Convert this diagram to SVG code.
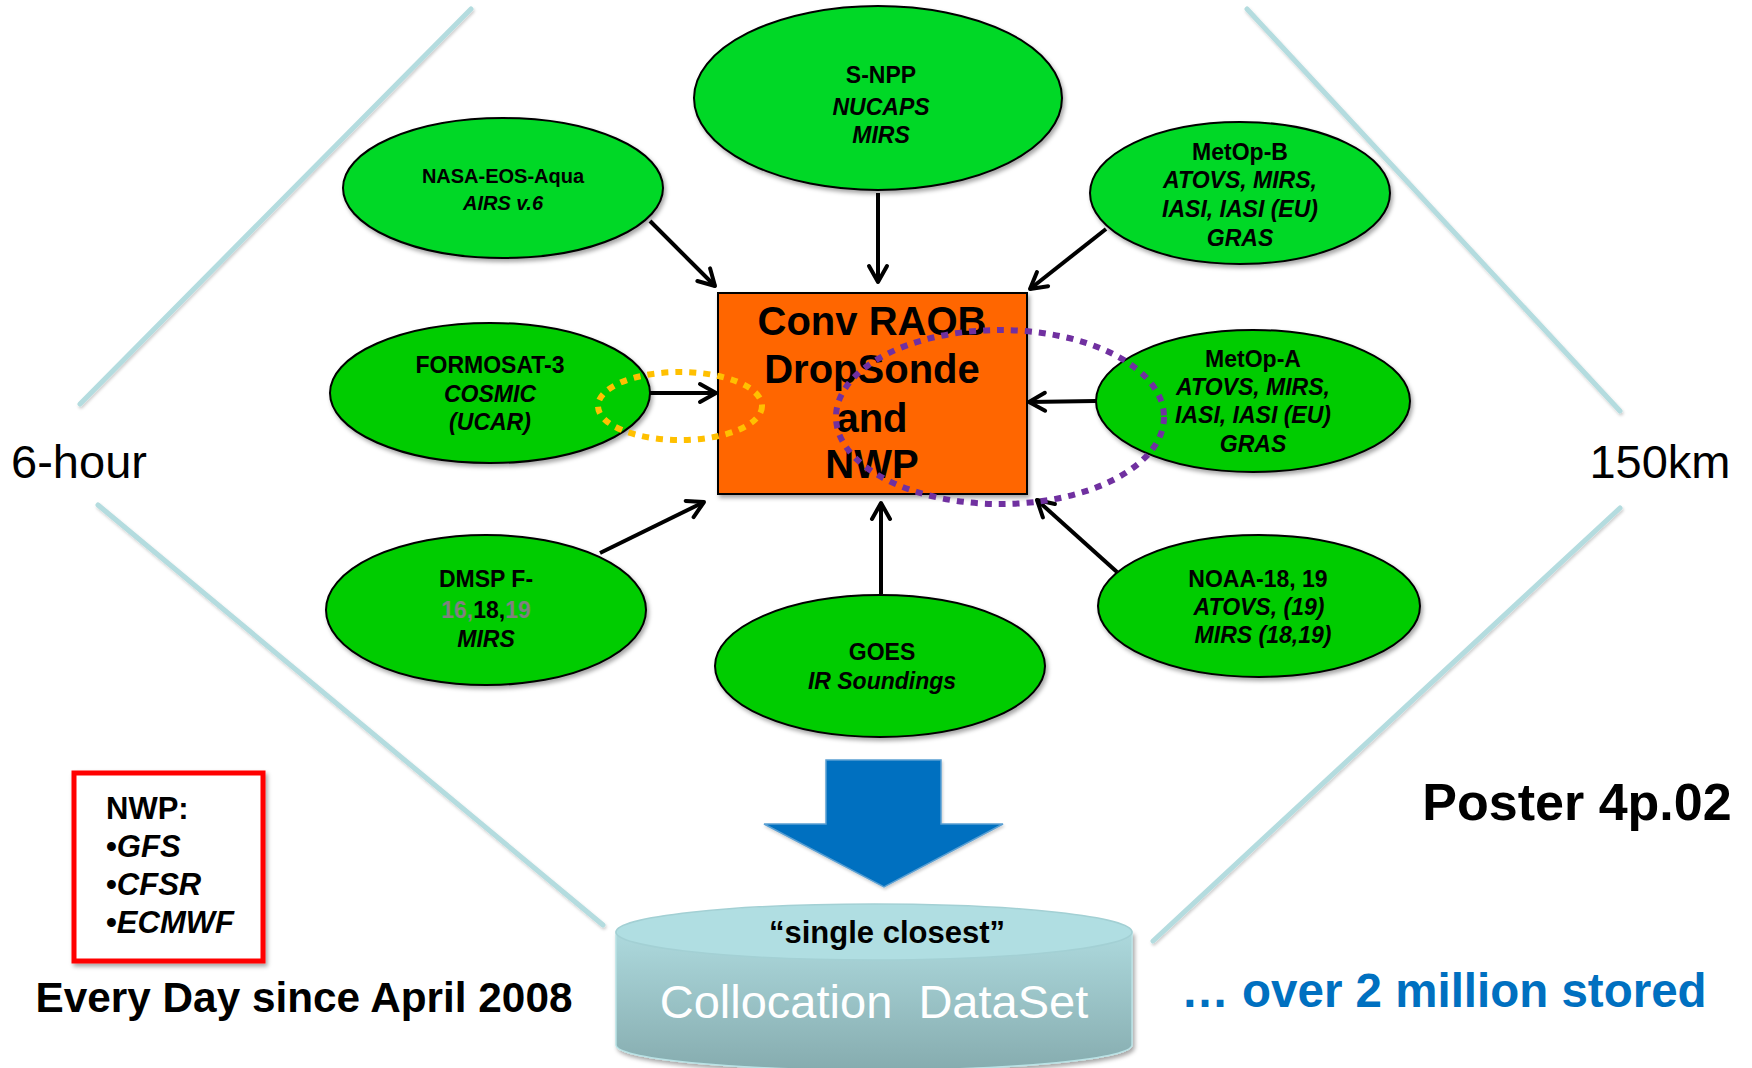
<svg xmlns="http://www.w3.org/2000/svg" width="1752" height="1068" viewBox="0 0 1752 1068">
<defs>
<style>
.t{font-family:"Liberation Sans",Arial,sans-serif;font-weight:bold;fill:#000;text-anchor:middle}
.i{font-style:italic}
.n23{font-size:23px}
.n20{font-size:20px}
.bg{stroke:#B4DCDF;stroke-width:5;fill:none;stroke-linecap:round}
.ga{fill:#04D825;stroke:#000;stroke-width:2}
.gb{fill:#00CC00;stroke:#000;stroke-width:2}
.con{stroke:#000;stroke-width:4;fill:none;marker-end:url(#ah)}
</style>
<filter id="sh" x="-20%" y="-20%" width="140%" height="140%">
<feDropShadow dx="2" dy="3" stdDeviation="2" flood-color="#000" flood-opacity="0.35"/>
</filter>
<filter id="sl" x="-10%" y="-10%" width="120%" height="120%">
<feDropShadow dx="1" dy="2" stdDeviation="1.5" flood-color="#000" flood-opacity="0.2"/>
</filter>
<marker id="ah" viewBox="0 0 24 24" refX="20" refY="12" markerWidth="24" markerHeight="24" markerUnits="userSpaceOnUse" orient="auto">
<path d="M4,3 L20,12 L4,21" fill="none" stroke="#000" stroke-width="4" stroke-linecap="round" stroke-linejoin="round"/>
</marker>
<linearGradient id="cyl" x1="0" y1="0" x2="0" y2="1">
<stop offset="0" stop-color="#ADD9DD"/>
<stop offset="1" stop-color="#86ACAF"/>
</linearGradient>
</defs>
<rect width="1752" height="1068" fill="#fff"/>

<g id="background-lines" filter="url(#sl)">
<line class="bg" x1="471" y1="9" x2="80" y2="404"/>
<line class="bg" x1="98" y1="505" x2="603" y2="925"/>
<line class="bg" x1="1247" y1="9" x2="1620" y2="411"/>
<line class="bg" x1="1620" y1="508" x2="1153" y2="941"/>
</g>

<text class="t" x="79" y="478" style="font-size:47px;font-weight:normal">6-hour</text>
<text class="t" x="1660" y="478" style="font-size:47px;font-weight:normal">150km</text>
<text class="t" x="1577" y="820" style="font-size:52px">Poster 4p.02</text>
<text class="t" x="1444" y="1007" style="font-size:47.5px;fill:#0070C0">… over 2 million stored</text>
<text class="t" x="304" y="1012" style="font-size:42.3px">Every Day since April 2008</text>

<g id="nwp-legend">
<rect x="74" y="773" width="189" height="188" fill="#fff" stroke="#FF0000" stroke-width="5" filter="url(#sh)"/>
<text class="t" x="106" y="819" style="font-size:31px;text-anchor:start">NWP:</text>
<text class="t" x="106" y="857" style="font-size:31px;text-anchor:start">•<tspan class="i">GFS</tspan></text>
<text class="t" x="106" y="895" style="font-size:31px;text-anchor:start">•<tspan class="i">CFSR</tspan></text>
<text class="t" x="106" y="933" style="font-size:31px;text-anchor:start">•<tspan class="i">ECMWF</tspan></text>
</g>

<g id="center">
<rect x="718" y="293" width="309" height="201" fill="#FF6600" stroke="#000" stroke-width="2" filter="url(#sh)"/>
<text class="t" x="872" y="335" style="font-size:40px">Conv RAOB</text>
<text class="t" x="872" y="383" style="font-size:40px">DropSonde</text>
<text class="t" x="872" y="432" style="font-size:40px">and</text>
<text class="t" x="872" y="478" style="font-size:40px">NWP</text>
</g>

<g id="snpp">
<ellipse class="ga" cx="878" cy="98" rx="184" ry="92" filter="url(#sh)"/>
<text class="t n23" x="881" y="83">S-NPP</text>
<text class="t n23 i" x="881" y="115">NUCAPS</text>
<text class="t n23 i" x="881" y="143">MIRS</text>
</g>

<g id="nasa">
<ellipse class="ga" cx="503" cy="188" rx="160" ry="70" filter="url(#sh)"/>
<text class="t n20" x="503" y="183">NASA-EOS-Aqua</text>
<text class="t n20 i" x="503" y="210">AIRS v.6</text>
</g>

<g id="metopb">
<ellipse class="ga" cx="1240" cy="193" rx="150" ry="71" filter="url(#sh)"/>
<text class="t n23" x="1240" y="160">MetOp-B</text>
<text class="t n23 i" x="1240" y="188">ATOVS, MIRS,</text>
<text class="t n23 i" x="1240" y="217">IASI, IASI (EU)</text>
<text class="t n23 i" x="1240" y="246">GRAS</text>
</g>

<g id="formosat">
<ellipse class="gb" cx="490" cy="393" rx="160" ry="70" filter="url(#sh)"/>
<text class="t n23" x="490" y="373">FORMOSAT-3</text>
<text class="t n23 i" x="490" y="402">COSMIC</text>
<text class="t n23 i" x="490" y="430">(UCAR)</text>
</g>

<g id="metopa">
<ellipse class="gb" cx="1253" cy="401" rx="157" ry="71" filter="url(#sh)"/>
<text class="t n23" x="1253" y="367">MetOp-A</text>
<text class="t n23 i" x="1253" y="395">ATOVS, MIRS,</text>
<text class="t n23 i" x="1253" y="423">IASI, IASI (EU)</text>
<text class="t n23 i" x="1253" y="452">GRAS</text>
</g>

<g id="dmsp">
<ellipse class="gb" cx="486" cy="610" rx="160" ry="75" filter="url(#sh)"/>
<text class="t n23" x="486" y="587">DMSP F-</text>
<text class="t n23" x="486" y="618"><tspan fill="#808080">16,</tspan>18,<tspan fill="#808080">19</tspan></text>
<text class="t n23 i" x="486" y="647">MIRS</text>
</g>

<g id="goes">
<ellipse class="gb" cx="880" cy="666" rx="165" ry="71" filter="url(#sh)"/>
<text class="t n23" x="882" y="660">GOES</text>
<text class="t n23 i" x="882" y="689">IR Soundings</text>
</g>

<g id="noaa">
<ellipse class="gb" cx="1259" cy="606" rx="161" ry="71" filter="url(#sh)"/>
<text class="t n23" x="1258" y="587">NOAA-18, 19</text>
<text class="t n23 i" x="1259" y="615">ATOVS, (19)</text>
<text class="t n23 i" x="1263" y="643">MIRS (18,19)</text>
</g>

<g id="connectors">
<line class="con" x1="650" y1="221" x2="715" y2="286"/>
<line class="con" x1="878" y1="193" x2="878" y2="282"/>
<line class="con" x1="1106" y1="229" x2="1030" y2="289"/>
<line class="con" x1="650" y1="393" x2="716" y2="393"/>
<line class="con" x1="1096" y1="401" x2="1029" y2="402"/>
<line class="con" x1="600" y1="553" x2="704" y2="502"/>
<line class="con" x1="881" y1="594" x2="881" y2="503"/>
<line class="con" x1="1117" y1="572" x2="1037" y2="500"/>
</g>

<g id="highlights">
<ellipse cx="680" cy="406" rx="82" ry="34" fill="none" stroke="#FFC000" stroke-width="6" stroke-dasharray="7 7"/>
<ellipse cx="1000" cy="417" rx="164" ry="87" fill="none" stroke="#7030A0" stroke-width="6" stroke-dasharray="7 7"/>
</g>

<g id="down-arrow">
<polygon points="826,760 941,760 941,824 1003,824 884,887 764,824 826,824" fill="#0070C0" stroke="#5A9FD2" stroke-width="1.5" filter="url(#sl)"/>
</g>

<g id="dataset">
<path d="M616,932 L616,1045 A258,25 0 0 0 1132,1045 L1132,932 Z" fill="url(#cyl)" stroke="#B9E2E5" stroke-width="1.5" filter="url(#sh)"/>
<ellipse cx="874" cy="932" rx="258" ry="28" fill="#B0DEE2" stroke="#A3D0D4" stroke-width="1.5"/>
<text class="t" x="887" y="943" style="font-size:31px">“single closest”</text>
<text class="t" x="874" y="1018" style="font-size:47px;font-weight:normal;fill:#fff">Collocation&#160; DataSet</text>
</g>
</svg>
